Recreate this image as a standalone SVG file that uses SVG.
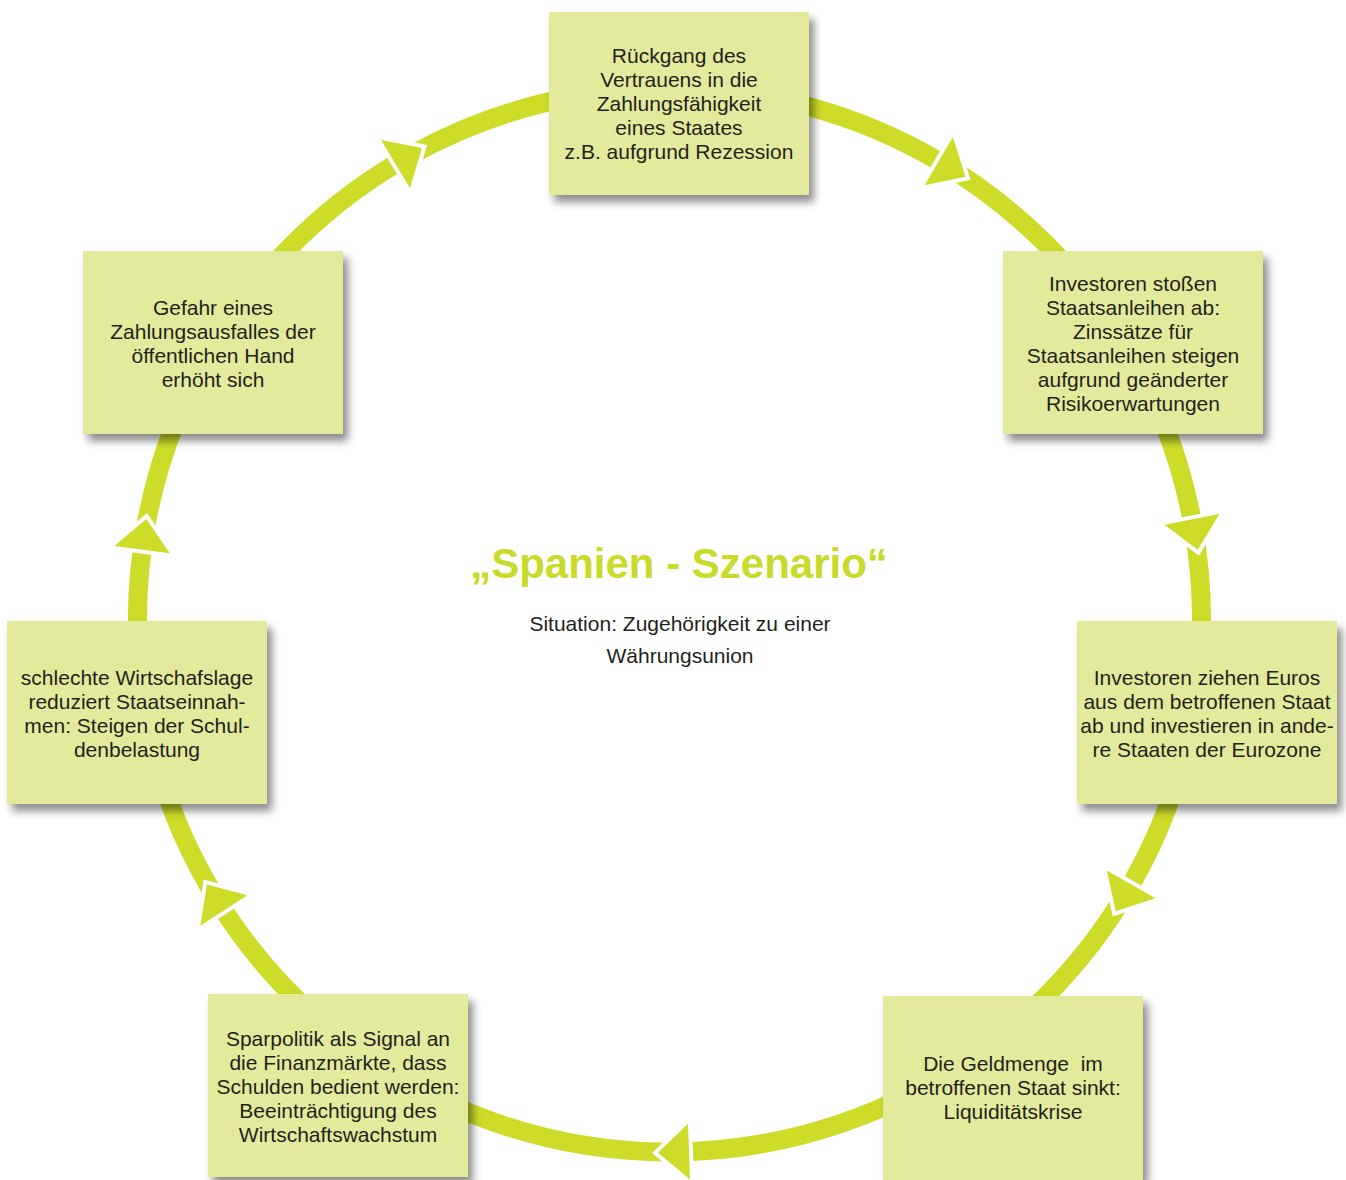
<svg xmlns="http://www.w3.org/2000/svg" xmlns:xlink="http://www.w3.org/1999/xlink" width="1346" height="1180" viewBox="0 0 1346 1180">
<style>
.ring{fill:none;stroke:#cddc29;stroke-width:19}
.ah{fill:#cddc29;stroke:#fff;stroke-width:8;paint-order:stroke;stroke-linejoin:miter}
.box{fill:#e3ea9c;filter:url(#sh)}
.t{font-family:"Liberation Sans",Arial,sans-serif;font-size:21px;fill:#231f20;text-anchor:middle}
.title{font-family:"Liberation Sans",Arial,sans-serif;font-size:42px;font-weight:bold;fill:#c9da2a;text-anchor:middle}
</style>
<defs>
<filter id="sh" x="-10%" y="-10%" width="130%" height="130%">
<feDropShadow dx="5" dy="7" stdDeviation="4" flood-color="#000" flood-opacity="0.45"/>
</filter>
<polygon id="ahd" class="ah" points="1173.5,620 1229.5,620 1201.5,651"/>
</defs>
<rect width="1346" height="1180" fill="#fff"/>
<g id="connectors">
<path class="ring" d="M214.9,343.6 A532,532 0 0 1 678.8,88.1"/>
<path class="ring" d="M678.8,88.1 A532,532 0 0 1 1126.0,346.8"/>
<path class="ring" d="M1126.0,346.8 A532,532 0 0 1 1193.7,710.5"/>
<path class="ring" d="M1193.7,710.5 A532,532 0 0 1 984.4,1048.7"/>
<path class="ring" d="M984.4,1048.7 A532,532 0 0 1 360.6,1053.1"/>
<path class="ring" d="M360.6,1053.1 A532,532 0 0 1 145.4,711.5"/>
<path class="ring" d="M145.4,711.5 A532,532 0 0 1 214.9,343.6"/>
<use xlink:href="#ahd" href="#ahd" transform="rotate(-121 669.5 620)"/>
<use xlink:href="#ahd" href="#ahd" transform="rotate(-59.6 669.5 620)"/>
<use xlink:href="#ahd" href="#ahd" transform="rotate(-10.9 669.5 620)"/>
<use xlink:href="#ahd" href="#ahd" transform="rotate(29.8 669.5 620)"/>
<use xlink:href="#ahd" href="#ahd" transform="rotate(87.9 669.5 620)"/>
<use xlink:href="#ahd" href="#ahd" transform="rotate(146.9 669.5 620)"/>
<use xlink:href="#ahd" href="#ahd" transform="rotate(187.6 669.5 620)"/>
</g>
<g id="n1">
<rect class="box" x="549" y="12" width="260" height="183"/>
<text class="t" x="679" y="63">Rückgang des</text>
<text class="t" x="679" y="87">Vertrauens in die</text>
<text class="t" x="679" y="111">Zahlungsfähigkeit</text>
<text class="t" x="679" y="135">eines Staates</text>
<text class="t" x="679" y="159">z.B. aufgrund Rezession</text>
</g>
<g id="n2">
<rect class="box" x="1003" y="251" width="260" height="183"/>
<text class="t" x="1133" y="291">Investoren stoßen</text>
<text class="t" x="1133" y="315">Staatsanleihen ab:</text>
<text class="t" x="1133" y="339">Zinssätze für</text>
<text class="t" x="1133" y="363">Staatsanleihen steigen</text>
<text class="t" x="1133" y="387">aufgrund geänderter</text>
<text class="t" x="1133" y="411">Risikoerwartungen</text>
</g>
<g id="n3">
<rect class="box" x="1077" y="621" width="260" height="183"/>
<text class="t" x="1207" y="685">Investoren ziehen Euros</text>
<text class="t" x="1207" y="709">aus dem betroffenen Staat</text>
<text class="t" x="1207" y="733">ab und investieren in ande-</text>
<text class="t" x="1207" y="757">re Staaten der Eurozone</text>
</g>
<g id="n4">
<rect class="box" x="883" y="996" width="260" height="184"/>
<text class="t" x="1013" y="1071" xml:space="preserve">Die Geldmenge  im</text>
<text class="t" x="1013" y="1095">betroffenen Staat sinkt:</text>
<text class="t" x="1013" y="1119">Liquiditätskrise</text>
</g>
<g id="n5">
<rect class="box" x="208" y="994" width="260" height="183"/>
<text class="t" x="338" y="1046">Sparpolitik als Signal an</text>
<text class="t" x="338" y="1070">die Finanzmärkte, dass</text>
<text class="t" x="338" y="1094">Schulden bedient werden:</text>
<text class="t" x="338" y="1118">Beeinträchtigung des</text>
<text class="t" x="338" y="1142">Wirtschaftswachstum</text>
</g>
<g id="n6">
<rect class="box" x="7" y="621" width="260" height="183"/>
<text class="t" x="137" y="685">schlechte Wirtschafslage</text>
<text class="t" x="137" y="709">reduziert Staatseinnah-</text>
<text class="t" x="137" y="733">men: Steigen der Schul-</text>
<text class="t" x="137" y="757">denbelastung</text>
</g>
<g id="n7">
<rect class="box" x="83" y="251" width="260" height="183"/>
<text class="t" x="213" y="315">Gefahr eines</text>
<text class="t" x="213" y="339">Zahlungsausfalles der</text>
<text class="t" x="213" y="363">öffentlichen Hand</text>
<text class="t" x="213" y="387">erhöht sich</text>
</g>
<g id="center">
<text class="title" x="679" y="578">„Spanien - Szenario“</text>
<text class="t" x="680" y="631">Situation: Zugehörigkeit zu einer</text>
<text class="t" x="680" y="663">Währungsunion</text>
</g>
</svg>
